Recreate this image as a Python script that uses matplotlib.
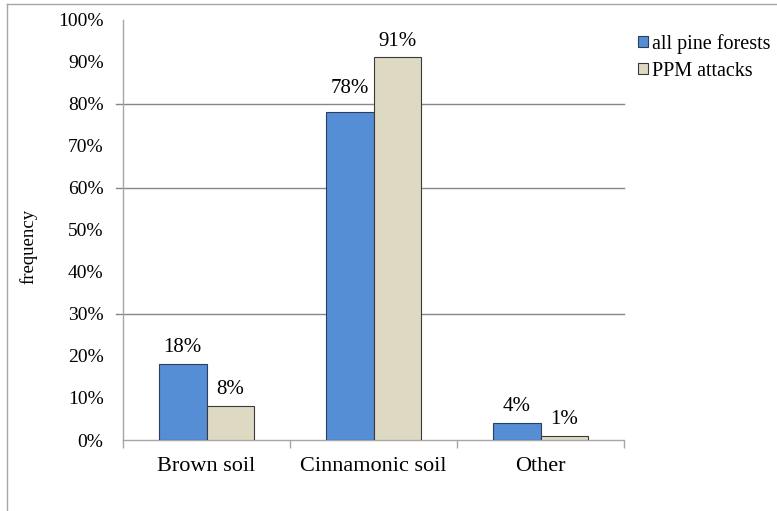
import matplotlib
matplotlib.use("Agg")
import matplotlib.pyplot as plt
import matplotlib.transforms as mtransforms
from matplotlib.lines import Line2D
import numpy as np

plt.rcParams['font.family'] = ['Liberation Serif', 'DejaVu Serif']

categories = ["Brown soil", "Cinnamonic soil", "Other"]
series_names = ["all pine forests", "PPM attacks"]
all_pine = [0.18, 0.78, 0.04]
ppm_attacks = [0.08, 0.91, 0.01]
value_labels_all = ["18%", "78%", "4%"]
value_labels_ppm = ["8%", "91%", "1%"]
ytick_values = [0.0, 0.1, 0.2, 0.3, 0.4, 0.5, 0.6, 0.7, 0.8, 0.9, 1.0]
ytick_labels = ["0%", "10%", "20%", "30%", "40%", "50%", "60%", "70%", "80%", "90%", "100%"]
grid_levels = [0.3, 0.6, 0.8]

blue = "#558ed5"
beige = "#ddd9c3"
axis_gray = "#a6a6a6"
grid_gray = "#868686"

fig = plt.figure(figsize=(7.77, 5.11), dpi=100)
ax = fig.add_axes([0.1583, 0.1389, 0.8031 - 0.1583, 0.9616 - 0.1389])

x = np.arange(len(categories))
w = 0.285

# horizontal rules, reaching a little past the value axis
trans = mtransforms.blended_transform_factory(ax.transAxes, ax.transData)
for lvl in grid_levels:
    ax.add_line(Line2D([-0.014, 1.0], [lvl, lvl], transform=trans, color=grid_gray,
                       linewidth=1.0, clip_on=False, zorder=1))

b1 = ax.bar(x - w / 2, all_pine, width=w, color=blue, edgecolor="#2a3f5e", linewidth=0.8,
            label=series_names[0], zorder=3)
b2 = ax.bar(x + w / 2, ppm_attacks, width=w, color=beige, edgecolor="#3a3a3a", linewidth=0.8,
            label=series_names[1], zorder=3)

# value labels; the middle blue label is lifted clear of the 80% rule
lift_all = [5, 10, 5]
for rect, txt, dy in zip(b1, value_labels_all, lift_all):
    ax.annotate(txt, (rect.get_x() + rect.get_width() / 2, rect.get_height()),
                xytext=(0, dy), textcoords="offset points", ha="center", va="bottom", fontsize=15)
for rect, txt in zip(b2, value_labels_ppm):
    ax.annotate(txt, (rect.get_x() + rect.get_width() / 2, rect.get_height()),
                xytext=(0, 5), textcoords="offset points", ha="center", va="bottom", fontsize=15)

ax.set_xlim(-0.5, 2.5)
ax.set_ylim(0, 1.0)

ax.set_yticks(ytick_values)
ax.set_yticklabels(ytick_labels, fontsize=14)
ax.tick_params(axis="y", length=0, pad=14)

ax.set_xticks(x)
ax.set_xticklabels(categories, fontsize=16)
ax.tick_params(axis="x", length=0, pad=12)
# category boundary ticks
ax.set_xticks([-0.5, 0.5, 1.5, 2.5], minor=True)
ax.tick_params(axis="x", which="minor", length=6, color=axis_gray, width=1.0, direction="out")

for side in ["top", "right"]:
    ax.spines[side].set_visible(False)
ax.spines["left"].set_color(axis_gray)
ax.spines["bottom"].set_color(axis_gray)
ax.spines["left"].set_linewidth(1.0)
ax.spines["bottom"].set_linewidth(1.0)

ax.set_ylabel("frequency", fontsize=13.5)
ax.yaxis.set_label_coords(-0.17, 0.46)

fig.legend(handles=[b1, b2], labels=series_names, loc="upper left",
           bbox_to_anchor=(638 / 777, 1 - 34 / 511), frameon=False, fontsize=14.5,
           handlelength=0.5, handleheight=0.5, handletextpad=0.2,
           labelspacing=0.38, borderpad=0.0, borderaxespad=0.0)

# outer frame lines (top and left)
fig.add_artist(Line2D([7 / 777, 1.0], [1 - 4 / 511, 1 - 4 / 511], transform=fig.transFigure,
                      color=axis_gray, linewidth=1.0))
fig.add_artist(Line2D([7 / 777, 7 / 777], [0.0, 1 - 4 / 511], transform=fig.transFigure,
                      color=axis_gray, linewidth=1.0))

fig.savefig("out.png", dpi=100, facecolor="white")
